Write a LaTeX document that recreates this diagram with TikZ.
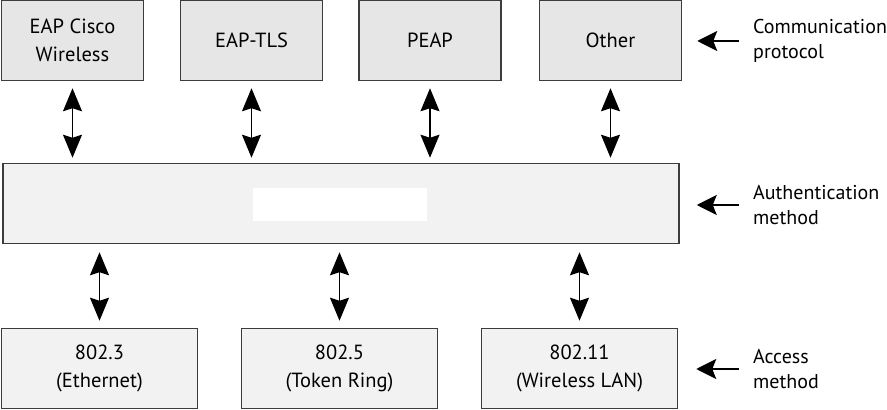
\documentclass[tikz,border=0pt]{standalone}
\usepackage{fontspec}
\setmainfont{PT Sans}
\usetikzlibrary{arrows.meta,positioning}
\definecolor{boxline}{HTML}{3C3C3C}
\definecolor{topfill}{HTML}{E6E6E6}
\definecolor{lowfill}{HTML}{F2F2F2}
\tikzset{
  protobox/.style={draw=boxline, fill=topfill, line width=1.5pt, minimum width=142pt,
    minimum height=80pt, align=center, inner sep=0pt},
  accessbox/.style={protobox, fill=lowfill, minimum width=196pt},
  twoway/.style={{Stealth[length=23pt,width=19pt,inset=3pt]}-{Stealth[length=23pt,width=19pt,inset=3pt]},
    line width=1.3pt},
  pointer/.style={-{Stealth[length=20pt,width=20pt,inset=4pt]}, line width=1.3pt},
  sidelabel/.style={anchor=west, align=left, inner xsep=14pt, inner ysep=0pt,
    font=\fontsize{20}{25}\selectfont}
}
\begin{document}
\begin{tikzpicture}[x=1pt, y=1pt, font=\fontsize{20.5}{28}\selectfont]
  \useasboundingbox (0,0) rectangle (887,410);
  % communication protocols (top row)
  \node[protobox] (cisco) at (72.5,369.5) {EAP Cisco\\Wireless};
  \node[protobox] (tls) at (251.5,369.5) {EAP-TLS};
  \node[protobox] (peap) at (430,369.5) {PEAP};
  \node[protobox] (other) at (610.5,369.5) {Other};
  % authentication layer with blanked label
  \node[protobox, fill=lowfill, minimum width=676pt] (auth) at (341,206.5) {};
  \node[fill=white, minimum width=174pt, minimum height=33pt, inner sep=0pt] (blank) at (340,205.5) {};
  % access methods (bottom row)
  \node[accessbox] (eth) at (99.5,41.5) {802.3\\(Ethernet)};
  \node[accessbox] (token) at (339.5,41.5) {802.5\\(Token Ring)};
  \node[accessbox] (wlan) at (579.5,41.5) {802.11\\(Wireless LAN)};
  % two-way links
  \foreach \n in {cisco,tls,peap,other}
    \draw[twoway, shorten <=7pt, shorten >=5pt] (\n.south) -- (\n.south |- auth.north);
  \foreach \n in {eth,token,wlan}
    \draw[twoway, shorten <=7pt, shorten >=8pt] (\n.north) -- (\n.north |- auth.south);
  % layer names on the right
  \node[sidelabel] (commlbl) at (739,369) {Communication\\protocol};
  \draw[pointer, shorten >=15pt] (commlbl.west) -- (other.east |- commlbl.west);
  \node[sidelabel] (authlbl) at (739,205) {Authentication\\method};
  \draw[pointer, shorten >=17pt] (authlbl.west) -- (auth.east |- authlbl.west);
  \node[sidelabel] (acclbl) at (739,41) {Access\\method};
  \draw[pointer, shorten >=18pt] (acclbl.west) -- (wlan.east |- acclbl.west);
\end{tikzpicture}
\end{document}
